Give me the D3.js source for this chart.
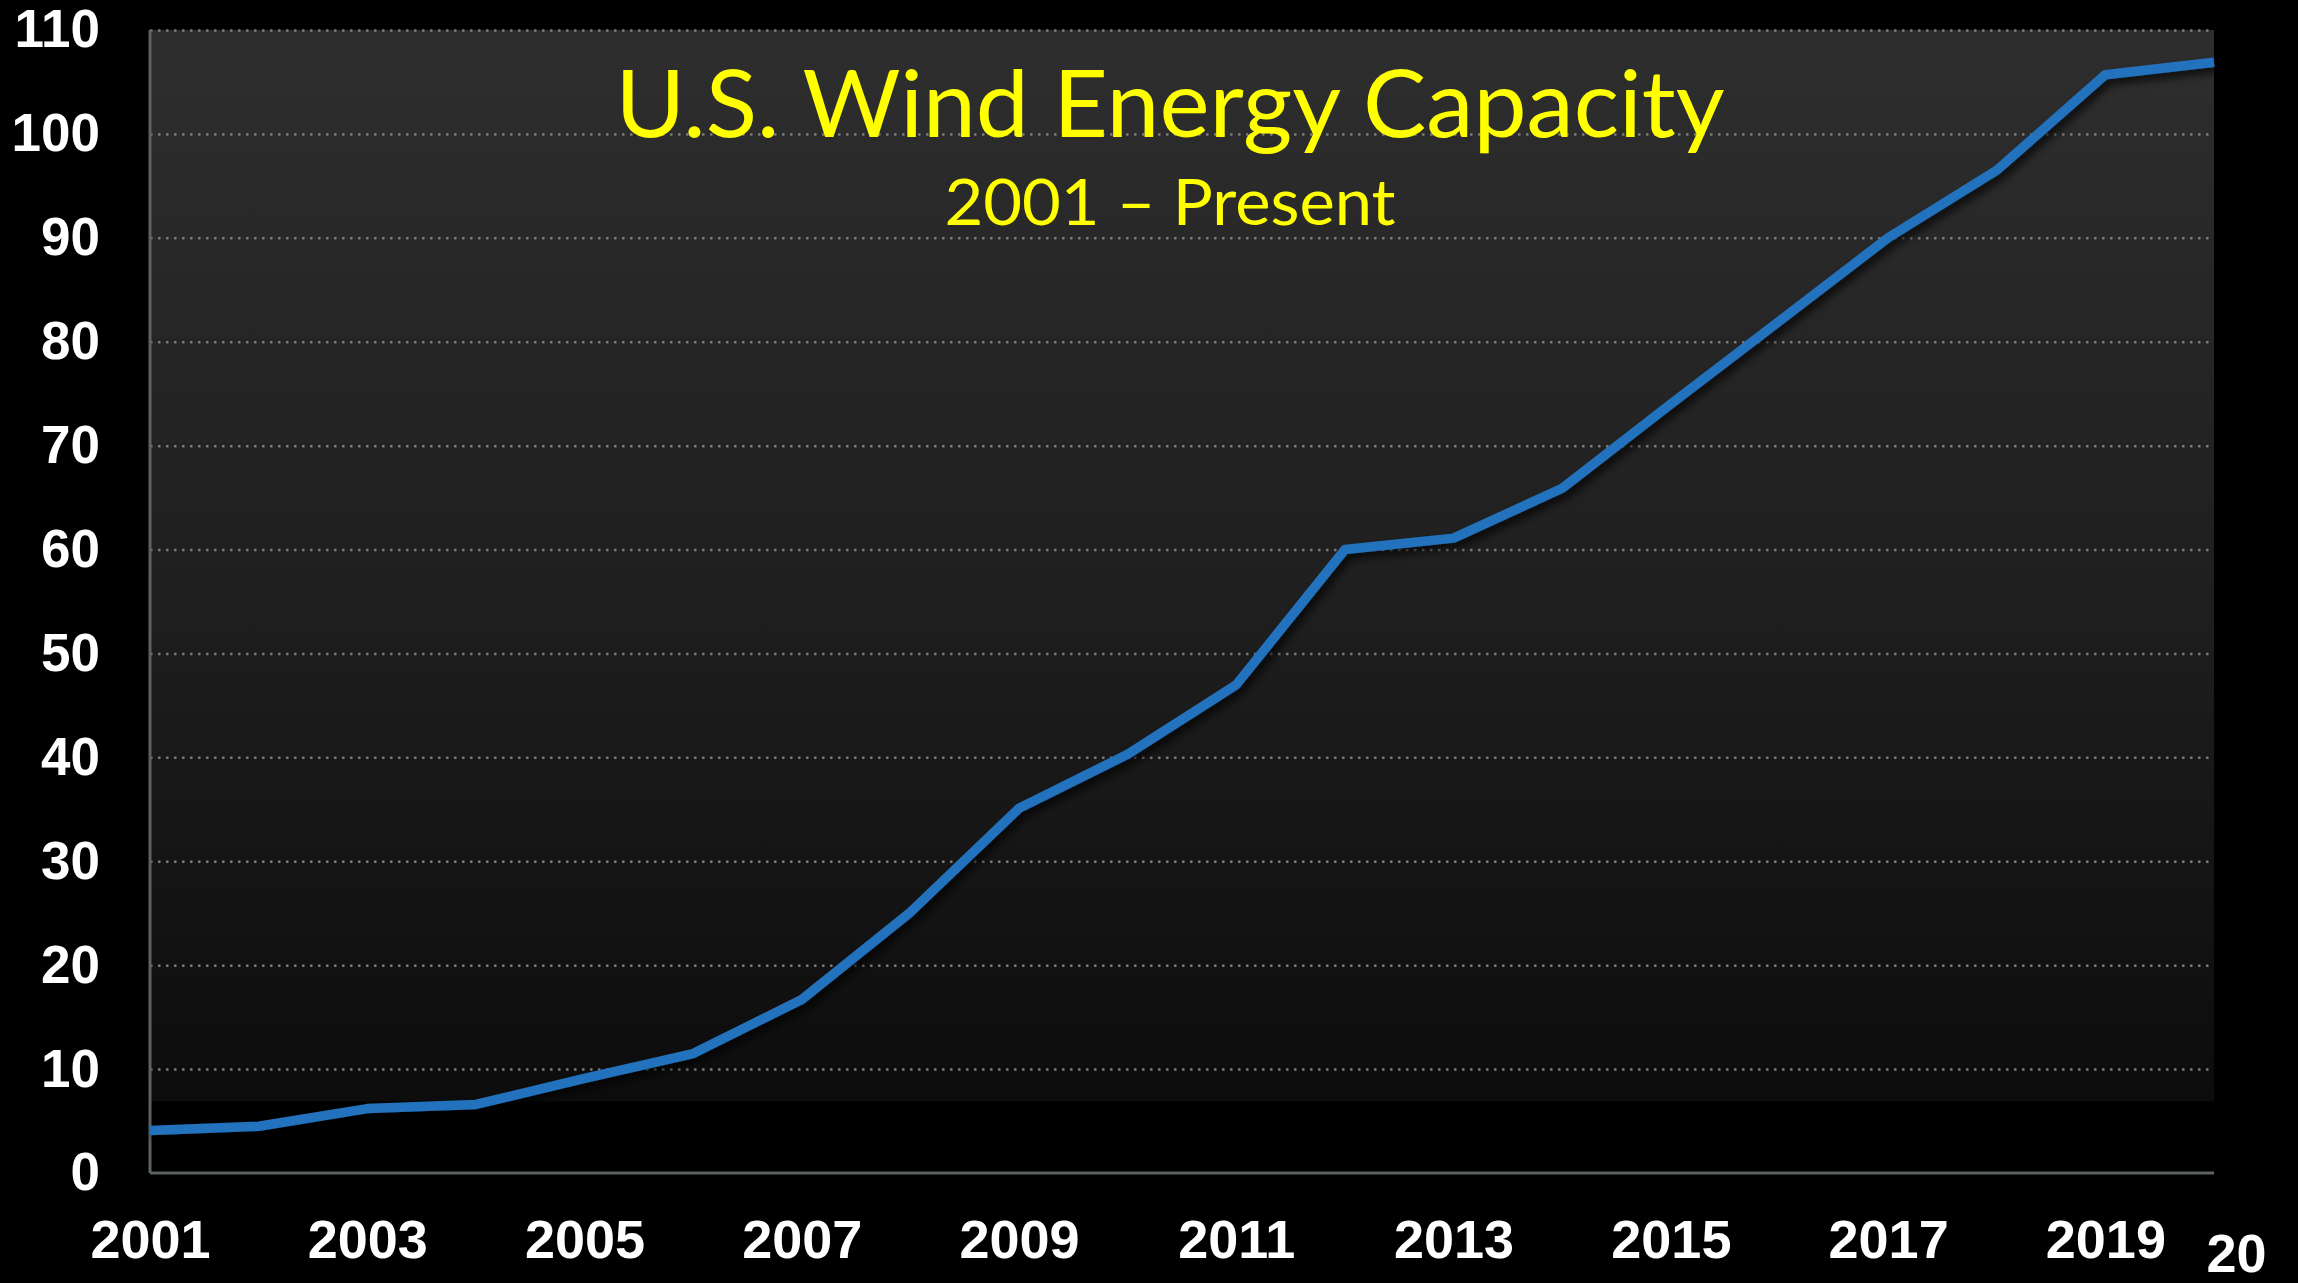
<!DOCTYPE html>
<html>
  <head>
    <script src="https://d3js.org/d3.v7.min.js"></script>
    <style>
      body { margin: 0; background: #000; }
    </style>
  </head>
  <body>
    <svg width="2298" height="1283"></svg>

    <script type="text/javascript">
      // installed capacity (GW)
      var years = [2001, 2002, 2003, 2004, 2005, 2006, 2007, 2008, 2009, 2010,
                   2011, 2012, 2013, 2014, 2015, 2016, 2017, 2018, 2019, 2020];
      var capacity = [4.1, 4.5, 6.2, 6.6, 9.1, 11.5, 16.7, 25.1, 35.1, 40.3,
                      47.0, 60.0, 61.1, 65.9, 74.0, 82.0, 90.0, 96.5, 105.7, 106.9];
      var yTicks = [0, 10, 20, 30, 40, 50, 60, 70, 80, 90, 100, 110];
      var xTickYears = [2001, 2003, 2005, 2007, 2009, 2011, 2013, 2015, 2017, 2019, 2020];
      var xTickLabels = ["2001", "2003", "2005", "2007", "2009", "2011", "2013", "2015", "2017", "2019", "20"];
      var title = "U.S. Wind Energy Capacity";
      var subtitle = "2001 \u2013 Present";

      var data = years.map((d, i) => ({ year: d, value: capacity[i] }));

      var svg = d3.select("svg");
      var plotLeft = 150, plotRight = 2214, plotTop = 30, plotBottom = 1173;

      var x = d3.scaleLinear().domain([2001, 2020]).range([plotLeft, plotRight]);
      var y = d3.scaleLinear().domain([0, 110]).range([plotBottom, plotTop]);

      var defs = svg.append("defs");
      var grad = defs.append("linearGradient")
        .attr("id", "bg")
        .attr("x1", 0).attr("y1", 0).attr("x2", 0).attr("y2", 1);
      grad.append("stop").attr("offset", "0%").attr("stop-color", "#2e2e2e");
      grad.append("stop").attr("offset", "55%").attr("stop-color", "#1e1e1e");
      grad.append("stop").attr("offset", "100%").attr("stop-color", "#0c0c0c");

      var shadow = defs.append("filter")
        .attr("id", "shadow")
        .attr("x", "-5%").attr("y", "-5%").attr("width", "110%").attr("height", "110%");
      shadow.append("feDropShadow")
        .attr("dx", 4).attr("dy", 5)
        .attr("stdDeviation", 4)
        .attr("flood-color", "#000")
        .attr("flood-opacity", 0.75);

      // plot background (fades out just under the 10 line)
      svg.append("rect")
        .attr("x", plotLeft)
        .attr("y", plotTop)
        .attr("width", plotRight - plotLeft)
        .attr("height", y(6.9) - plotTop)
        .attr("fill", "url(#bg)");

      // dotted gridlines
      var grid = svg.append("g")
        .attr("transform", "translate(" + plotLeft + ",0)")
        .call(d3.axisLeft(y).tickValues(yTicks.slice(1)).tickSize(-(plotRight - plotLeft)).tickFormat(""));
      grid.select(".domain").remove();
      grid.selectAll("line")
        .attr("stroke", "#7a7a7a")
        .attr("stroke-width", 2.5)
        .attr("stroke-dasharray", "2.5,5.5");

      // y axis labels
      var yAxis = svg.append("g")
        .attr("transform", "translate(" + plotLeft + ",0)")
        .call(d3.axisLeft(y).tickValues(yTicks).tickSize(0).tickPadding(50));
      yAxis.select(".domain").remove();
      yAxis.selectAll("text")
        .attr("fill", "#fff")
        .style("font-family", "'Liberation Sans', Arial, sans-serif")
        .style("font-weight", "bold")
        .style("font-size", "53px");

      // x axis labels
      var xAxis = svg.append("g")
        .attr("transform", "translate(0," + plotBottom + ")")
        .call(d3.axisBottom(x).tickValues(xTickYears).tickSize(0)
          .tickFormat((d, i) => xTickLabels[i]));
      xAxis.select(".domain").remove();
      xAxis.selectAll("text")
        .attr("fill", "#fff")
        .attr("dy", null)
        .attr("y", 85)
        .style("font-family", "'Liberation Sans', Arial, sans-serif")
        .style("font-weight", "bold")
        .style("font-size", "54px");
      xAxis.selectAll("text")
        .filter((d) => d === 2020)
        .attr("x", 22)
        .attr("y", 99);

      // axis lines
      svg.append("line")
        .attr("x1", plotLeft).attr("x2", plotLeft)
        .attr("y1", plotTop).attr("y2", plotBottom)
        .attr("stroke", "#5b6262").attr("stroke-width", 3);
      svg.append("line")
        .attr("x1", plotLeft).attr("x2", plotRight)
        .attr("y1", plotBottom).attr("y2", plotBottom)
        .attr("stroke", "#5b6262").attr("stroke-width", 3);

      // capacity line
      var line = d3.line()
        .x((d) => x(d.year))
        .y((d) => y(d.value));

      svg.append("path")
        .attr("d", line(data))
        .attr("fill", "none")
        .attr("stroke", "#2172bd")
        .attr("stroke-width", 9.5)
        .attr("stroke-linejoin", "round")
        .attr("filter", "url(#shadow)");

      // titles
      svg.append("text")
        .attr("x", 1170)
        .attr("y", 137)
        .attr("text-anchor", "middle")
        .attr("textLength", 1109)
        .attr("lengthAdjust", "spacingAndGlyphs")
        .attr("fill", "#ffff00")
        .style("font-family", "Lato, 'Open Sans', sans-serif")
        .style("font-size", "94px")
        .text(title);

      svg.append("text")
        .attr("x", 1170)
        .attr("y", 225)
        .attr("text-anchor", "middle")
        .attr("textLength", 451)
        .attr("lengthAdjust", "spacingAndGlyphs")
        .attr("fill", "#ffff00")
        .style("font-family", "Lato, 'Open Sans', sans-serif")
        .style("font-size", "63px")
        .text(subtitle);
    </script>
  </body>
</html>
